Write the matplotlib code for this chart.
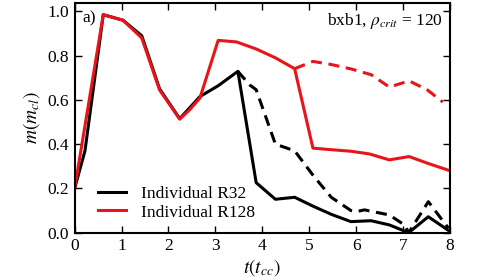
import numpy as np
import matplotlib
matplotlib.use('Agg')
import matplotlib.pyplot as plt

plt.rcParams['font.family'] = ['Liberation Serif', 'DejaVu Serif']
plt.rcParams['mathtext.fontset'] = 'stix'
plt.rcParams['font.size'] = 12.5

# shared early evolution
t_early = [0.0, 0.22, 0.61, 1.03, 1.43, 1.81, 2.24]
m_early_r32 = [0.20, 0.37, 0.985, 0.96, 0.89, 0.65, 0.515]
t_early_r128 = [0.0, 0.61, 1.03, 1.43, 1.81, 2.24]
m_early_r128 = [0.20, 0.985, 0.96, 0.88, 0.645, 0.513]

# R32 solid
t_r32 = [2.67, 3.06, 3.48, 3.87, 4.28, 4.69, 5.08, 5.47, 5.89, 6.32, 6.71, 7.12, 7.54, 7.97]
m_r32 = [0.615, 0.664, 0.729, 0.226, 0.151, 0.160, 0.12, 0.083, 0.05, 0.054, 0.035, 0.0, 0.072, 0.01]
# R32 dashed
t_r32d = [3.48, 3.73, 3.87, 4.28, 4.69, 5.08, 5.47, 5.89, 6.00, 6.18, 6.71, 7.03, 7.12, 7.54, 7.97]
m_r32d = [0.729, 0.668, 0.646, 0.40, 0.37, 0.26, 0.16, 0.10, 0.095, 0.103, 0.08, 0.035, 0.0, 0.14, 0.02]

# R128 solid
t_r128 = [2.45, 2.67, 3.06, 3.45, 3.87, 4.28, 4.69, 5.08, 5.47, 5.89, 6.28, 6.71, 7.13, 7.52, 8.0]
m_r128 = [0.555, 0.608, 0.869, 0.862, 0.83, 0.79, 0.741, 0.382, 0.375, 0.368, 0.356, 0.329, 0.344, 0.314, 0.28]
# R128 dashed
t_r128d = [4.69, 5.08, 5.47, 5.89, 6.32, 6.71, 7.13, 7.52, 7.85]
m_r128d = [0.741, 0.774, 0.76, 0.74, 0.714, 0.658, 0.686, 0.645, 0.59]

fig = plt.figure(figsize=(5.01, 2.8), dpi=100)
ax = fig.add_axes([0.149, 0.169, 0.749, 0.822])

lw = 2.2
ax.plot(t_early + t_r32, m_early_r32 + m_r32, color='black', lw=lw, label='Individual R32')
ax.plot(t_r32d, m_r32d, color='black', lw=lw, ls=(0, (3.6, 2.2)))
ax.plot(t_early_r128 + t_r128, m_early_r128 + m_r128, color='#e8141a', lw=lw,
        label='Individual R128')
ax.plot(t_r128d, m_r128d, color='#e8141a', lw=lw, ls=(0, (3.6, 2.2)))

ax.set_xlim(0, 8)
ax.set_ylim(0, 1.04)
ax.set_xticks(range(0, 9))
ax.set_yticks([0.0, 0.2, 0.4, 0.6, 0.8, 1.0])
ax.set_yticklabels(['0.0', '0.2', '0.4', '0.6', '0.8', '1.0'])
ax.tick_params(direction='in', top=True, right=True, length=5, width=1, pad=4)
for s in ax.spines.values():
    s.set_linewidth(1.5)

ax.set_xlabel(r'$t(t_{cc})$', fontsize=14, labelpad=2)
ax.set_ylabel(r'$m(m_{cl})$', fontsize=14, labelpad=4)

ax.text(0.02, 0.965, 'a)', transform=ax.transAxes, ha='left', va='top')
ax.text(0.98, 0.965, r'bxb1, $\rho_{crit}$ = 120', transform=ax.transAxes,
        ha='right', va='top')

ax.legend(loc='lower left', frameon=False, handlelength=1.6, handletextpad=0.9,
          borderaxespad=0.3, labelspacing=0.15, bbox_to_anchor=(0.03, 0.0))

fig.savefig('out.png', dpi=100)
